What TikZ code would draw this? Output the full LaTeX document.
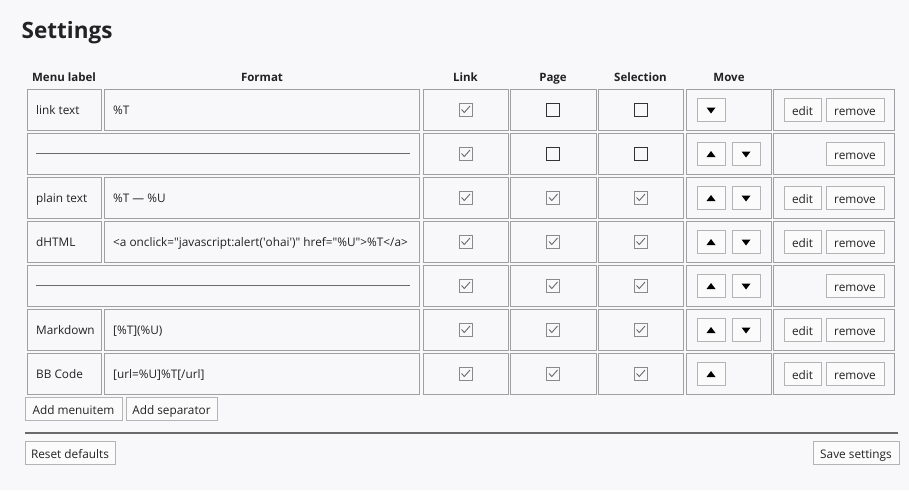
\documentclass[tikz,border=0pt]{standalone}
\usepackage{fontspec}
\setmainfont{Open Sans}
\usetikzlibrary{calc}
\definecolor{bg}{HTML}{F8F8FA}
\definecolor{cellline}{HTML}{A0A0A0}
\definecolor{txt}{HTML}{222222}
\definecolor{btnline}{HTML}{B4B4B4}
\definecolor{btnfill}{HTML}{FBFBFC}
\definecolor{chkline}{HTML}{8A8A8A}
\definecolor{chkmark}{HTML}{6A6A6A}
\definecolor{boxline}{HTML}{333333}
\definecolor{sepline}{HTML}{6A6A6A}
\newcommand{\cellfont}{\fontsize{11.8}{14}\selectfont}
\newcommand{\hdrfont}{\fontsize{11.5}{14}\bfseries\selectfont}
\newcommand{\cbx}[4]{%
  \ifnum#4=1
    \draw[chkline,line width=0.8pt] (#2-6.5,#3-6.5) rectangle (#2+6.5,#3+6.5);
    \draw[chkmark,line width=0.9pt] (#2-4,#3) -- (#2-1.2,#3+3) -- (#2+4.5,#3-3.5);
  \else
    \draw[boxline,line width=0.9pt] (#2-6.5,#3-6.5) rectangle (#2+6.5,#3+6.5);
  \fi
  \coordinate (#1) at (#2,#3);}
\tikzset{
  cell/.style={draw=cellline,line width=1pt},
  celltext/.style={anchor=base west,font=\cellfont,text=txt,inner sep=0pt},
  hdr/.style={anchor=base,font=\hdrfont,text=txt,inner sep=0pt},
  btn/.style={draw=btnline,fill=btnfill,line width=0.8pt,minimum height=23pt,inner sep=0pt,text height=11pt,text depth=0pt,font=\cellfont,text=txt},
  tri/.style={fill=black},
}
\begin{document}
\begin{tikzpicture}[x=1pt,y=-1pt]
\fill[bg] (0,0) rectangle (909,490);
\useasboundingbox (0,0) rectangle (909,490);

\node[anchor=base west,font=\fontsize{22.5}{26}\bfseries\selectfont,text=txt,inner sep=0pt] (title) at (21.5,38) {Settings};

\node[hdr] (h1) at (64,81) {Menu label};
\node[hdr] (h2) at (262,81) {Format};
\node[hdr] (h3) at (465.5,81) {Link};
\node[hdr] (h4) at (553,81) {Page};
\node[hdr] (h5) at (640.5,81) {Selection};
\node[hdr] (h6) at (729,81) {Move};

\foreach \i/\sp/\lab/\fmt/\pc/\up/\dn/\ed in {
0/0/{link text}/{\%T}/0/0/1/1,
1/1/{}/{}/0/1/1/0,
2/0/{plain text}/{\%T — \%U}/1/1/1/1,
3/0/{dHTML}/{<a onclick=\textquotedbl javascript:alert(\textquotesingle ohai\textquotesingle)\textquotedbl{} href=\textquotedbl\%U\textquotedbl>\%T</a>}/1/1/1/1,
4/1/{}/{}/1/1/1/0,
5/0/{Markdown}/{[\%T](\%U)}/1/1/1/1,
6/0/{BB Code}/{[url=\%U]\%T[/url]}/1/1/0/1}{
  \pgfmathsetmacro\tp{89+44*\i}
  \pgfmathsetmacro\bt{\tp+41}
  \pgfmathsetmacro\cy{\tp+20.5}
  \pgfmathsetmacro\bl{\tp+25.8}
  \ifnum\sp=1
    \draw[cell] (27.5,\tp) rectangle (419.5,\bt);
    \draw[sepline,line width=1pt] (36,\cy) -- (410,\cy);
  \else
    \draw[cell] (27.5,\tp) rectangle (101,\bt);
    \draw[cell] (104,\tp) rectangle (419.5,\bt);
    \node[celltext] (lab\i) at (36,\bl) {\lab};
    \node[celltext] (fmt\i) at (113,\bl) {\fmt};
  \fi
  \draw[cell] (423,\tp) rectangle (508,\bt);
  \draw[cell] (510.5,\tp) rectangle (596,\bt);
  \draw[cell] (598.5,\tp) rectangle (683.5,\bt);
  \draw[cell] (686,\tp) rectangle (771,\bt);
  \draw[cell] (773.5,\tp) rectangle (894.5,\bt);
  \cbx{lk\i}{465.5}{\cy}{1}
  \cbx{pg\i}{553}{\cy}{\pc}
  \cbx{sl\i}{640.5}{\cy}{\pc}
  \ifnum\up=1
    \node[btn,minimum width=28pt] (upb\i) at (711,\cy) {};
    \fill[tri] ($(upb\i)+(-4.5,3.5)$) -- ($(upb\i)+(4.5,3.5)$) -- ($(upb\i)+(0,-2.5)$) -- cycle;
    \ifnum\dn=1
      \node[btn,minimum width=28pt] (dnb\i) at (746,\cy) {};
      \fill[tri] ($(dnb\i)+(-4.5,-2)$) -- ($(dnb\i)+(4.5,-2)$) -- ($(dnb\i)+(0,4)$) -- cycle;
    \fi
  \else
    \node[btn,minimum width=28pt] (dnb\i) at (711,\cy) {};
    \fill[tri] ($(dnb\i)+(-4.5,-2)$) -- ($(dnb\i)+(4.5,-2)$) -- ($(dnb\i)+(0,4)$) -- cycle;
  \fi
  \ifnum\ed=1
    \node[btn,minimum width=37pt] (edit\i) at (802.5,\cy) {edit};
  \fi
  \node[btn,minimum width=58pt] (rem\i) at (855,\cy) {remove};
}

\node[btn,minimum width=97pt] (addmenu) at (73.5,408.5) {Add menuitem};
\node[btn,minimum width=91pt] (addsep) at (171.5,408.5) {Add separator};
\coordinate (hrl) at (25,433);
\coordinate (hrr) at (898,433);
\draw[sepline,line width=1.5pt] (hrl) -- (hrr);
\node[btn,minimum width=90pt] (reset) at (70,452.5) {Reset defaults};
\node[btn,minimum width=86pt] (save) at (856,452.5) {Save settings};
\end{tikzpicture}
\end{document}
